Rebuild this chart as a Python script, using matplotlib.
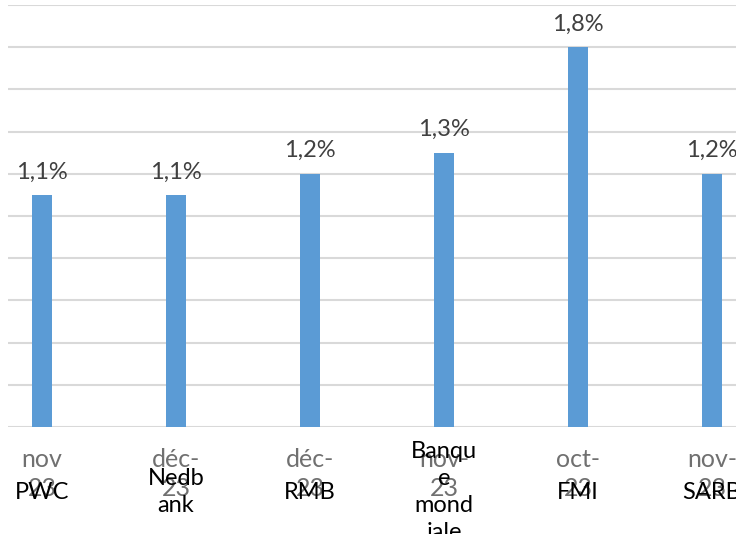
import matplotlib.pyplot as plt

# donnees
sources = ['PWC', 'Nedb\nank', 'RMB', 'Banqu\ne\nmond\niale', 'FMI', 'SARB']
dates = ['nov\n23', 'déc-\n23', 'déc-\n23', 'nov-\n23', 'oct-\n23', 'nov-\n23']
croissance = [1.1, 1.1, 1.2, 1.3, 1.8, 1.2]
etiquettes = ['1,1%', '1,1%', '1,2%', '1,3%', '1,8%', '1,2%']

plt.rcParams['font.family'] = ['Lato', 'DejaVu Sans']

W, H = 736, 534
fig = plt.figure(figsize=(W / 100, H / 100), dpi=100)
ax = fig.add_axes([8 / W, 1 - 427 / H, 1 - 8 / W, 422 / H])

x = list(range(len(croissance)))
ax.bar(x, croissance, width=0.15, color='#5b9bd5', zorder=3)

for xi, v, lab in zip(x, croissance, etiquettes):
    ax.annotate(lab, (xi, v), xytext=(0, 9), textcoords='offset points',
                ha='center', va='bottom', fontsize=17, color='#404040')

ax.set_xlim(-0.254, 5.179)
ax.set_ylim(0, 2.0)
ax.set_yticks([i * 0.2 for i in range(11)])
ax.yaxis.grid(True, color='#d9d9d9', linewidth=1.5, zorder=0)
ax.tick_params(axis='y', left=False, labelleft=False)
ax.set_xticks(x)
ax.set_xticklabels(dates, fontsize=18, color='#707070', linespacing=1.3)
ax.tick_params(axis='x', length=0, pad=15)
for s in ax.spines.values():
    s.set_visible(False)

for xi, src in zip(x, sources):
    ax.text(xi, -0.155, src, transform=ax.get_xaxis_transform(), ha='center',
            va='center', fontsize=17, color='black', linespacing=1.35)

fig.savefig('out.png', dpi=100)
